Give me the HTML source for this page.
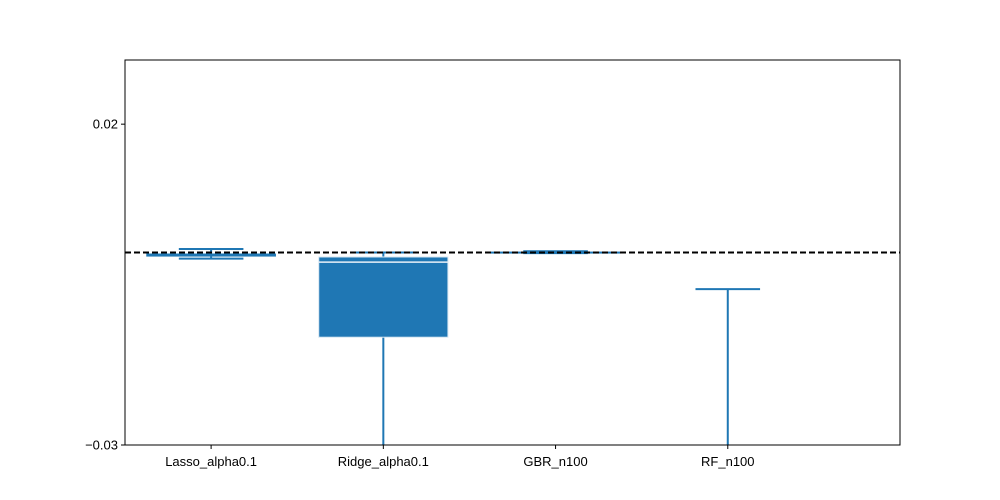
<!DOCTYPE html>
<html><head><meta charset="utf-8"><style>
html,body{margin:0;background:#fff;overflow:hidden;width:1000px;height:500px}
svg{display:block}
svg text{font-family:"Liberation Sans","DejaVu Sans",sans-serif;font-size:13px;fill:#000}
</style></head><body>
<svg id="chart" width="1000" height="500"></svg>
<script>
const categories=["Lasso_alpha0.1","Ridge_alpha0.1","GBR_n100","RF_n100"];
const whiskerHigh=[0.00055,0.0,0.0002,-0.0057];
const q3=[-0.0002,-0.0007,0.0001,-0.035];
const medians=[-0.00045,-0.0015,0.00005,-0.04];
const q1=[-0.0006,-0.0132,-0.0001,-0.05];
const whiskerLow=[-0.00095,-0.05,-0.0001,-0.06];
const yTicks=[0.02,-0.03];
const yTickLabels=["0.02","\u22120.03"];
const refValue=0;
const L=125,R=900,T=60,B=445,ymin=-0.03,ymax=0.03,xmin=0.5,xmax=5;
const X=v=>L+(v-xmin)/(xmax-xmin)*(R-L);
const Yraw=v=>B-(v-ymin)/(ymax-ymin)*(B-T);
const Y=v=>Math.min(B+2,Math.max(T-2,Yraw(v)));
const svg=document.getElementById('chart');
const NS="http://www.w3.org/2000/svg";
function mk(t,a,p){const e=document.createElementNS(NS,t);for(const k in a)e.setAttribute(k,a[k]);(p||svg).appendChild(e);return e;}
const defs=mk('defs',{});const cp=mk('clipPath',{id:'c'},defs);mk('rect',{x:L,y:T,width:R-L,height:B-T},cp);
const g=mk('g',{'clip-path':'url(#c)'});


categories.forEach((c,i)=>{
  const x=X(i+1),bw=0.75*(R-L)/(xmax-xmin),cw=bw/2;
  const grp=mk('g',{},g);
  
  
  mk('line',{x1:x,x2:x,y1:Y(q3[i]),y2:Y(whiskerHigh[i]),stroke:'#1f77b4','stroke-width':2},grp);
  mk('line',{x1:x,x2:x,y1:Y(q1[i]),y2:Y(whiskerLow[i]),stroke:'#1f77b4','stroke-width':2},grp);
  mk('line',{x1:x-cw/2,x2:x+cw/2,y1:Y(whiskerHigh[i]),y2:Y(whiskerHigh[i]),stroke:'#1f77b4','stroke-width':2},grp);
  mk('line',{x1:x-cw/2,x2:x+cw/2,y1:Y(whiskerLow[i]),y2:Y(whiskerLow[i]),stroke:'#1f77b4','stroke-width':2},grp);
  const h=Math.max(Y(q1[i])-Y(q3[i]),1.5);
  const small=h<10;
  mk('rect',{x:x-bw/2,y:Y(q3[i]),width:bw,height:h,fill:'#1f77b4',stroke:small?'#1f77b4':'#d6e6f2','stroke-width':small?0.5:1},grp);
  if(!small) mk('line',{x1:x-bw/2,x2:x+bw/2,y1:Y(medians[i]),y2:Y(medians[i]),stroke:'#e8f0f8','stroke-width':1.5},grp);
});
const ref=mk('line',{x1:L,x2:R,y1:Y(refValue),y2:Y(refValue),stroke:'#000','stroke-width':2,'stroke-dasharray':'6,3'});


const fr=mk('rect',{x:L,y:T,width:R-L,height:B-T,fill:'none',stroke:'#000','stroke-width':1});


yTicks.forEach((v,i)=>{
  mk('line',{x1:L-4,x2:L,y1:Y(v),y2:Y(v),stroke:'#000'});
  const t=mk('text',{x:L-7,y:Y(v)+4.5,'text-anchor':'end'});t.textContent=yTickLabels[i];
  
  
});
categories.forEach((c,i)=>{
  mk('line',{x1:X(i+1),x2:X(i+1),y1:B,y2:B+4,stroke:'#000'});
  const t=mk('text',{x:X(i+1),y:B+21,'text-anchor':'middle'});t.textContent=c;
  
  
});
</script>
</body></html>
